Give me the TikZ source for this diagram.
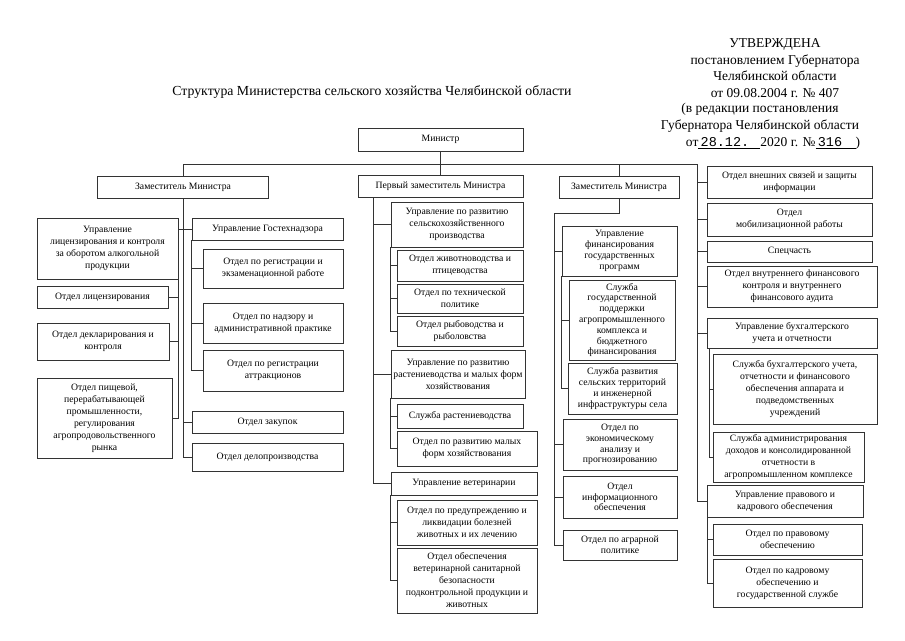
\documentclass[tikz,border=0pt]{standalone}
\usepackage{fontspec}
\setmainfont{Liberation Serif}
\newfontfamily\monofont{Liberation Mono}
\usepackage{tikz}
\usetikzlibrary{calc}

\begin{document}
\begin{tikzpicture}[x=1pt, y=-1pt,
    box/.style={draw=black!80, line width=0.6pt, align=center, inner sep=1pt, font=\fontsize{9.7}{12}\selectfont},
    tight/.style={font=\fontsize{9.7}{10.8}\selectfont},
    link/.style={draw=black!80, line width=0.6pt},
    head/.style={align=center, inner sep=0pt, font=\fontsize{13.5}{16.5}\selectfont}]

\useasboundingbox (0,0) rectangle (905,640);

% Trunk positions
\def\trunkA{183}
\def\trunkB{373}
\def\trunkC{554}
\def\trunkD{697}
\def\topline{164}

% Header
\node[head] (approved) at (775,68) {УТВЕРЖДЕНА\\ постановлением Губернатора\\ Челябинской области\\ от 09.08.2004 г. № 407};
\node[head] (edition) at (760,118) {(в редакции постановления\\ Губернатора Челябинской области};
\node[head] (dated) at (773,143) {от\underline{\makebox[62pt][l]{\monofont\,28.12.}}2020 г. №\underline{\makebox[40pt][l]{\monofont\,316}})};
\node[head, font=\fontsize{13.8}{16}\selectfont] (title) at (372,92) {Структура Министерства сельского хозяйства Челябинской области};

% Minister and deputies
\node[box, minimum width=165, minimum height=23] (min) at (440.5,139.5) {Министр};
\node[box, minimum width=171, minimum height=22] (dep1) at (183,187) {Заместитель Министра};
\node[box, minimum width=165, minimum height=22] (dep0) at (440.5,186) {Первый заместитель Министра};
\node[box, minimum width=120, minimum height=22] (dep2) at (619,187) {Заместитель Министра};

% Left column
\node[box, minimum width=141, minimum height=61] (uprlic) at (107.5,248.5) {Управление\\ лицензирования и контроля\\ за оборотом алкогольной\\ продукции};
\node[box, minimum width=131, minimum height=22] (otdlic) at (102.5,297) {Отдел лицензирования};
\node[box, minimum width=132, minimum height=37] (otddecl) at (103,341.5) {Отдел декларирования и\\ контроля};
\node[box, minimum width=135, minimum height=80] (otdpish) at (104.5,418) {Отдел пищевой,\\ перерабатывающей\\ промышленности,\\ регулирования\\ агропродовольственного\\ рынка};
\node[box, minimum width=151, minimum height=22] (uprgtn) at (267.5,229) {Управление Гостехнадзора};
\node[box, minimum width=140, minimum height=39] (otdreg) at (273,268.5) {Отдел по регистрации и\\ экзаменационной работе};
\node[box, minimum width=140, minimum height=40] (otdnadz) at (273,323) {Отдел по надзору и\\ административной практике};
\node[box, minimum width=140, minimum height=41] (otdattr) at (273,370.5) {Отдел по регистрации\\ аттракционов};
\node[box, minimum width=151, minimum height=22] (otdzak) at (267.5,422) {Отдел закупок};
\node[box, minimum width=151, minimum height=28] (otddelo) at (267.5,457) {Отдел делопроизводства};

% Middle column
\node[box, minimum width=132, minimum height=45] (uprsx) at (457,224.5) {Управление по развитию\\ сельскохозяйственного\\ производства};
\node[box, minimum width=126, minimum height=31] (otdjiv) at (460,265.5) {Отдел животноводства и\\ птицеводства};
\node[box, minimum width=126, minimum height=29] (otdtech) at (460,298.5) {Отдел по технической\\ политике};
\node[box, minimum width=126, minimum height=30] (otdryb) at (460,331) {Отдел рыбоводства и\\ рыболовства};
\node[box, minimum width=134, minimum height=48] (uprrast) at (458,374) {Управление по развитию\\ растениеводства и малых форм\\ хозяйствования};
\node[box, minimum width=126, minimum height=24] (slrast) at (460,416) {Служба растениеводства};
\node[box, minimum width=140, minimum height=35] (otdmal) at (467,448.5) {Отдел по развитию малых\\ форм хозяйствования};
\node[box, minimum width=146, minimum height=23] (vet) at (464,483.5) {Управление ветеринарии};
\node[box, minimum width=140, minimum height=45] (otdpred) at (467,522.5) {Отдел по предупреждению и\\ ликвидации болезней\\ животных и их лечению};
\node[box, minimum width=140, minimum height=65] (otdobesp) at (467,580.5) {Отдел обеспечения\\ ветеринарной санитарной\\ безопасности\\ подконтрольной продукции и\\ животных};

% Third column
\node[box, tight, minimum width=115, minimum height=50] (uprfin) at (619.5,251) {Управление\\ финансирования\\ государственных\\ программ};
\node[box, tight, minimum width=106, minimum height=80] (slgos) at (622,320) {Служба\\ государственной\\ поддержки\\ агропромышленного\\ комплекса и\\ бюджетного\\ финансирования};
\node[box, tight, minimum width=109, minimum height=51] (slrazv) at (622.5,388.5) {Служба развития\\ сельских территорий\\ и инженерной\\ инфраструктуры села};
\node[box, tight, minimum width=114, minimum height=51] (otdecon) at (620,444.5) {Отдел по\\ экономическому\\ анализу и\\ прогнозированию};
\node[box, tight, minimum width=114, minimum height=42] (otdinf) at (620,497) {Отдел\\ информационного\\ обеспечения};
\node[box, tight, minimum width=114, minimum height=30] (otdagr) at (620,545) {Отдел по аграрной\\ политике};

% Right column
\node[box, minimum width=165, minimum height=32] (otdvnesh) at (789.5,182) {Отдел внешних связей и защиты\\ информации};
\node[box, minimum width=165, minimum height=33] (otdmob) at (789.5,219.5) {Отдел\\ мобилизационной работы};
\node[box, minimum width=165, minimum height=21] (spec) at (789.5,251.5) {Спецчасть};
\node[box, minimum width=170, minimum height=41] (otdaudit) at (792,286.5) {Отдел внутреннего финансового\\ контроля и внутреннего\\ финансового аудита};
\node[box, minimum width=170, minimum height=30] (uprbuh) at (792,333) {Управление бухгалтерского\\ учета и отчетности};
\node[box, minimum width=164, minimum height=70] (slbuh) at (795,389) {Служба бухгалтерского учета,\\ отчетности и финансового\\ обеспечения аппарата и\\ подведомственных\\ учреждений};
\node[box, minimum width=151, minimum height=50] (sladm) at (788.5,457) {Служба администрирования\\ доходов и консолидированной\\ отчетности в\\ агропромышленном комплексе};
\node[box, minimum width=156, minimum height=32] (uprprav) at (785,501) {Управление правового и\\ кадрового обеспечения};
\node[box, minimum width=149, minimum height=31] (otdprav) at (787.5,539.5) {Отдел по правовому\\ обеспечению};
\node[box, minimum width=149, minimum height=48] (otdkadr) at (787.5,583) {Отдел по кадровому\\ обеспечению и\\ государственной службе};

% Top line
\coordinate (topL) at (\trunkA,\topline);
\coordinate (topR) at (\trunkD,\topline);
\draw[link] (min.south) -- (dep0.north);
\draw[link] (dep1.north) -- (topL) -- (topR) |- (uprprav.west);
\draw[link] (dep2.north |- topL) -- (dep2.north);
\foreach \n in {otdvnesh,otdmob,spec,otdaudit,uprbuh} {
    \draw[link] (\n.west) -- (\n.west -| topR);
}

% Left branches
\draw[link] (dep1.south) |- (otddelo.west);
\draw[link] (uprlic.east |- uprgtn.west) -- (uprgtn.west);
\draw[link] (otdzak.west) -- (otdzak.west -| dep1.south);
\draw[link] (uprlic.south east) |- (otdpish.east);
\foreach \n in {otdlic,otddecl} {
    \draw[link] (\n.east) -- (\n.east -| uprlic.south east);
}
\draw[link] (uprgtn.south west) |- (otdattr.west);
\foreach \n in {otdreg,otdnadz} {
    \draw[link] (\n.west) -- (\n.west -| uprgtn.south west);
}

% Middle branches
\coordinate (trB) at (\trunkB,197);
\draw[link] (trB) |- (vet.west);
\foreach \n in {uprsx,uprrast} {
    \draw[link] (\n.west) -- (\n.west -| trB);
}
\draw[link] (uprsx.south west) |- (otdryb.west);
\foreach \n in {otdjiv,otdtech} {
    \draw[link] (\n.west) -- (\n.west -| uprsx.south west);
}
\draw[link] (uprrast.south west) |- (otdmal.west);
\draw[link] (slrast.west) -- (slrast.west -| uprrast.south west);
\draw[link] (vet.south west) |- (otdobesp.west);
\draw[link] (otdpred.west) -- (otdpred.west -| vet.south west);

% Third branches
\coordinate (trC) at (\trunkC,213);
\draw[link] (dep2.south) |- (trC) |- (otdagr.west);
\foreach \n in {uprfin,otdecon,otdinf} {
    \draw[link] (\n.west) -- (\n.west -| trC);
}
\draw[link] (uprfin.south west) |- (slrazv.west);
\draw[link] (slgos.west) -- (slgos.west -| uprfin.south west);

% Right branches
\coordinate (subbuh) at ([xshift=3pt]uprbuh.south west);
\draw[link] (subbuh) |- (sladm.west);
\draw[link] (slbuh.west) -- (slbuh.west -| subbuh);
\coordinate (subprav) at ([xshift=1pt]uprprav.south west);
\draw[link] (subprav) |- (otdkadr.west);
\draw[link] (otdprav.west) -- (otdprav.west -| subprav);

\end{tikzpicture}
\end{document}
